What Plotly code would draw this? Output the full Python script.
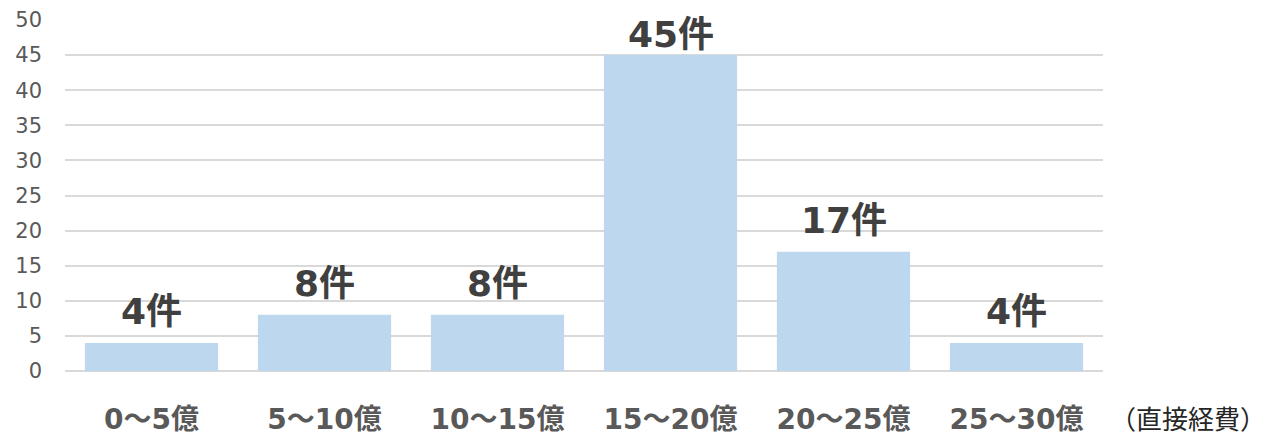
import plotly.graph_objects as go

categories = ["0～5億", "5～10億", "10～15億", "15～20億", "20～25億", "25～30億"]
counts = [4, 8, 8, 45, 17, 4]
labels = [f"{c}件" for c in counts]
y_ticks = list(range(0, 55, 5))
unit_note = "（直接経費）"

FONT = "DejaVu Sans, Noto Sans CJK JP"
Y_MAX = 50

fig = go.Figure()
fig.add_trace(go.Bar(
    x=categories, y=counts,
    marker=dict(color="#BDD7EE", line=dict(width=0)),
    width=0.77, hoverinfo="x+y",
))

annotations = []
for cat, v, lab in zip(categories, counts, labels):
    if v > Y_MAX * 0.85:
        # label kept inside the plot area (pinned at top)
        annotations.append(dict(x=cat, y=1, xref="x", yref="paper", text=lab,
                                yanchor="top", yshift=8, showarrow=False,
                                font=dict(family=FONT, size=36, color="#404040", weight="bold")))
    else:
        annotations.append(dict(x=cat, y=v, xref="x", yref="y", text=lab,
                                yanchor="bottom", yshift=9, showarrow=False,
                                font=dict(family=FONT, size=36, color="#404040", weight="bold")))

annotations.append(dict(
    text=unit_note, xref="paper", yref="paper", x=1.0, y=0, xshift=5, yshift=-46,
    xanchor="left", yanchor="middle", showarrow=False,
    font=dict(family="Noto Sans CJK JP", size=26, color="#262626"),
))

fig.update_layout(
    width=1272, height=437,
    margin=dict(l=65, r=169, t=20, b=66),
    plot_bgcolor="white", paper_bgcolor="white",
    showlegend=False,
    xaxis=dict(
        showgrid=False, zeroline=False, showline=False, automargin=False,
        tickfont=dict(family=FONT, size=28, color="#595959", weight="bold"),
        ticks="", ticklabelstandoff=29,
    ),
    yaxis=dict(
        range=[0, Y_MAX], tickvals=y_ticks, showgrid=True, gridcolor="#D9D9D9", gridwidth=1.5,
        zeroline=True, zerolinecolor="#D9D9D9", zerolinewidth=1.5, automargin=False,
        tickfont=dict(family=FONT, size=21, color="#595959"),
        ticks="", ticklabelstandoff=22,
    ),
    annotations=annotations,
)
fig.write_html("out.html")
